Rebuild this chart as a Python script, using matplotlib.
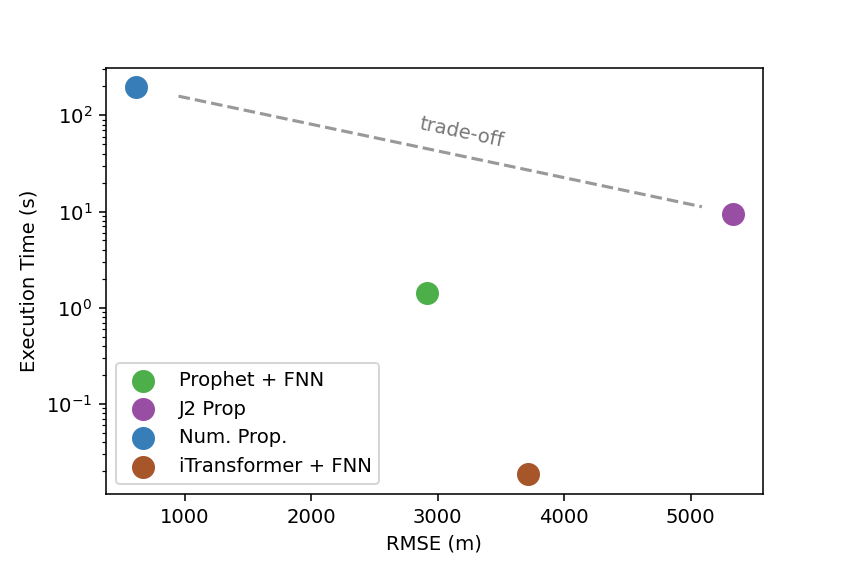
import matplotlib
import matplotlib.pyplot as plt

matplotlib.use("Agg")

# Model results: RMSE vs execution time
models = ["Prophet + FNN", "J2 Prop", "Num. Prop.", "iTransformer + FNN"]
rmse = [2918, 5335, 612, 3712]
exec_time = [1.42, 9.4, 196, 0.0185]
colors = ["#4daf4a", "#984ea3", "#377eb8", "#a65628"]

# trade-off guide line end points
trade_x = [950, 5090]
trade_y = [158, 11.2]

fig, ax = plt.subplots(figsize=(6, 4), dpi=141.25)
fig.subplots_adjust(left=0.125, right=0.9, top=0.88, bottom=0.126)

for name, x, y, c in zip(models, rmse, exec_time, colors):
    ax.scatter(x, y, s=115, color=c, label=name, zorder=3)

ax.plot(trade_x, trade_y, linestyle="--", color="#999999", linewidth=1.6)
ax.text(3190, 66, "trade-off", color="#777777", fontsize=10,
        rotation=-12, ha="center", va="center")

ax.set_yscale("log")
ax.set_xlabel("RMSE (m)")
ax.set_ylabel("Execution Time (s)")
ax.legend(loc="lower left")

fig.savefig("out.png", dpi=141.25)
plt.close(fig)
